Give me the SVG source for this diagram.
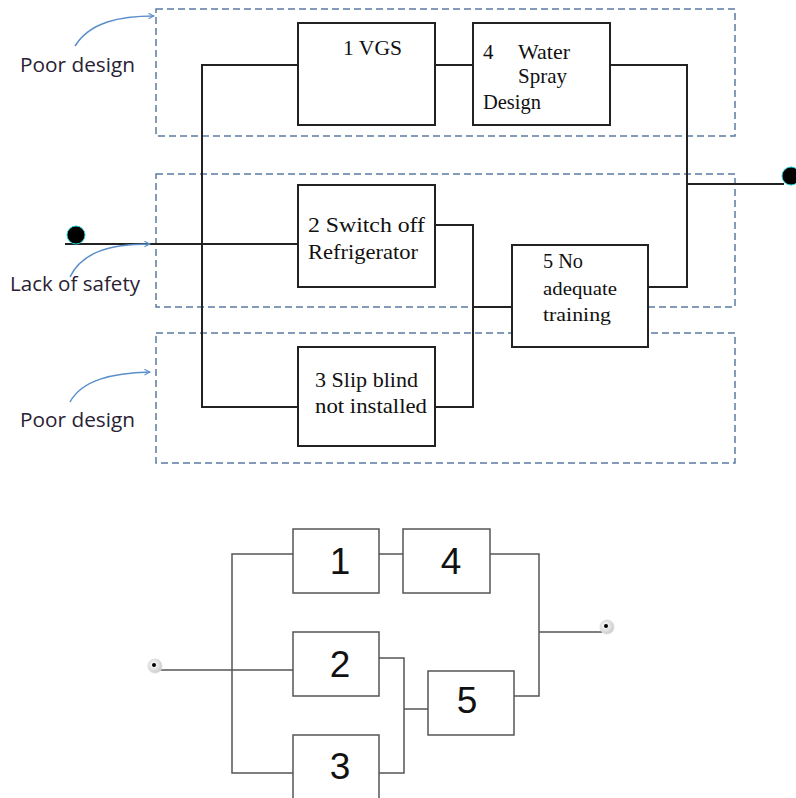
<svg xmlns="http://www.w3.org/2000/svg" width="796" height="798" viewBox="0 0 796 798">
<defs>
<style>
.grp{fill:none;stroke:#5b7aa3;stroke-width:1.5;stroke-dasharray:7 4}
.bx{fill:#fff;stroke:#222;stroke-width:2}
.ln{fill:none;stroke:#222;stroke-width:2}
.bx2{fill:#fff;stroke:#555;stroke-width:1.5}
.ln2{fill:none;stroke:#555;stroke-width:1.5}
.cur{fill:none;stroke:#5b8fca;stroke-width:1.5;marker-end:url(#ah)}
.lab{font-family:"Open Sans","Liberation Sans",sans-serif;font-size:20px;fill:#2a2233}
.st{font-family:"Liberation Serif",serif;font-size:21px;fill:#111}
.sm{font-family:"Liberation Serif",serif;font-size:18px;fill:#111}
.num{font-family:"Liberation Sans",Arial,sans-serif;font-size:37px;fill:#111;text-anchor:middle}
</style>
<marker id="ah" viewBox="0 0 10 10" refX="9" refY="5" markerWidth="7" markerHeight="7" orient="auto" markerUnits="userSpaceOnUse">
<path d="M1,1 L9,5 L1,9" fill="none" stroke="#5b8fca" stroke-width="1.5"/>
</marker>
<radialGradient id="dotg" cx="0.4" cy="0.4" r="0.6">
<stop offset="0" stop-color="#fff"/>
<stop offset="1" stop-color="#ccc"/>
</radialGradient>
</defs>
<rect width="796" height="798" fill="#fff"/>

<g id="groups">
<rect class="grp" x="156" y="9" width="579" height="127"/>
<rect class="grp" x="156" y="174" width="579" height="133"/>
<rect class="grp" x="156" y="333" width="579" height="130"/>
</g>

<g id="connectors">
<polyline class="ln" points="298,65 202,65 202,407 298,407"/>
<line class="ln" x1="435" y1="65" x2="473" y2="65"/>
<polyline class="ln" points="610,65 687,65 687,287 648,287"/>
<line class="ln" x1="687" y1="184" x2="784" y2="184"/>
<line class="ln" x1="65" y1="244" x2="298" y2="244"/>
<polyline class="ln" points="435,225 473,225 473,407 435,407"/>
<line class="ln" x1="473" y1="307" x2="512" y2="307"/>
<path class="cur" d="M75,46 C90,22 120,16 154,16"/>
<path class="cur" d="M70,277 C82,252 110,244 150,244"/>
<path class="cur" d="M70,402 C82,380 112,373 150,372"/>

<polyline class="ln2" points="293,554 232,554 232,773 293,773"/>
<line class="ln2" x1="379" y1="554" x2="403" y2="554"/>
<polyline class="ln2" points="490,554 539,554 539,696 514,696"/>
<line class="ln2" x1="539" y1="632" x2="602" y2="632"/>
<line class="ln2" x1="160" y1="670" x2="293" y2="670"/>
<polyline class="ln2" points="379,658 404,658 404,773 379,773"/>
<line class="ln2" x1="404" y1="709" x2="428" y2="709"/>
</g>

<g id="labels">
<text class="lab" x="20" y="72" textLength="115" lengthAdjust="spacingAndGlyphs">Poor design</text>
<text class="lab" x="10" y="291" textLength="130" lengthAdjust="spacingAndGlyphs">Lack of safety</text>
<text class="lab" x="20" y="427" textLength="115" lengthAdjust="spacingAndGlyphs">Poor design</text>
</g>

<g id="terminals">
<circle cx="76" cy="235" r="9" fill="#000" stroke="#2cc" stroke-width="1"/>
<circle cx="791" cy="176" r="9" fill="#000" stroke="#2cc" stroke-width="1"/>
<circle cx="155" cy="666" r="7" fill="url(#dotg)" stroke="#ddd" stroke-width="1"/>
<circle cx="154" cy="665" r="2" fill="#000"/>
<circle cx="607" cy="627" r="7" fill="url(#dotg)" stroke="#ddd" stroke-width="1"/>
<circle cx="606" cy="626" r="2" fill="#000"/>
</g>

<g id="n1">
<rect class="bx" x="298" y="23" width="137" height="102"/>
<text class="st" x="343" y="55" textLength="59" lengthAdjust="spacingAndGlyphs">1 VGS</text>
</g>
<g id="n4">
<rect class="bx" x="473" y="23" width="137" height="102"/>
<text class="st" x="483" y="59">4</text>
<text class="st" x="518" y="59" textLength="52" lengthAdjust="spacingAndGlyphs">Water</text>
<text class="st" x="518" y="83" textLength="49" lengthAdjust="spacingAndGlyphs">Spray</text>
<text class="st" x="483" y="109" textLength="58" lengthAdjust="spacingAndGlyphs">Design</text>
</g>
<g id="n2">
<rect class="bx" x="298" y="185" width="137" height="102"/>
<text class="st" x="308" y="232" textLength="117" lengthAdjust="spacingAndGlyphs">2 Switch off</text>
<text class="st" x="308" y="259" textLength="110" lengthAdjust="spacingAndGlyphs">Refrigerator</text>
</g>
<g id="n5">
<rect class="bx" x="512" y="245" width="136" height="102"/>
<text class="st" x="543" y="268" textLength="40" lengthAdjust="spacingAndGlyphs">5 No</text>
<text class="sm" x="543" y="295" textLength="74" lengthAdjust="spacingAndGlyphs">adequate</text>
<text class="sm" x="543" y="321" textLength="68" lengthAdjust="spacingAndGlyphs">training</text>
</g>
<g id="n3">
<rect class="bx" x="298" y="347" width="137" height="99"/>
<text class="st" x="315" y="387" textLength="103" lengthAdjust="spacingAndGlyphs">3 Slip blind</text>
<text class="st" x="315" y="413" textLength="112" lengthAdjust="spacingAndGlyphs">not installed</text>
</g>

<g id="b1">
<rect class="bx2" x="293" y="529" width="86" height="64"/>
<text class="num" x="340" y="574">1</text>
</g>
<g id="b4">
<rect class="bx2" x="403" y="529" width="87" height="64"/>
<text class="num" x="451" y="574">4</text>
</g>
<g id="b2">
<rect class="bx2" x="293" y="632" width="86" height="64"/>
<text class="num" x="340" y="677">2</text>
</g>
<g id="b5">
<rect class="bx2" x="428" y="671" width="86" height="64"/>
<text class="num" x="467" y="713">5</text>
</g>
<g id="b3">
<rect class="bx2" x="293" y="735" width="86" height="64"/>
<text class="num" x="340" y="779">3</text>
</g>
</svg>
